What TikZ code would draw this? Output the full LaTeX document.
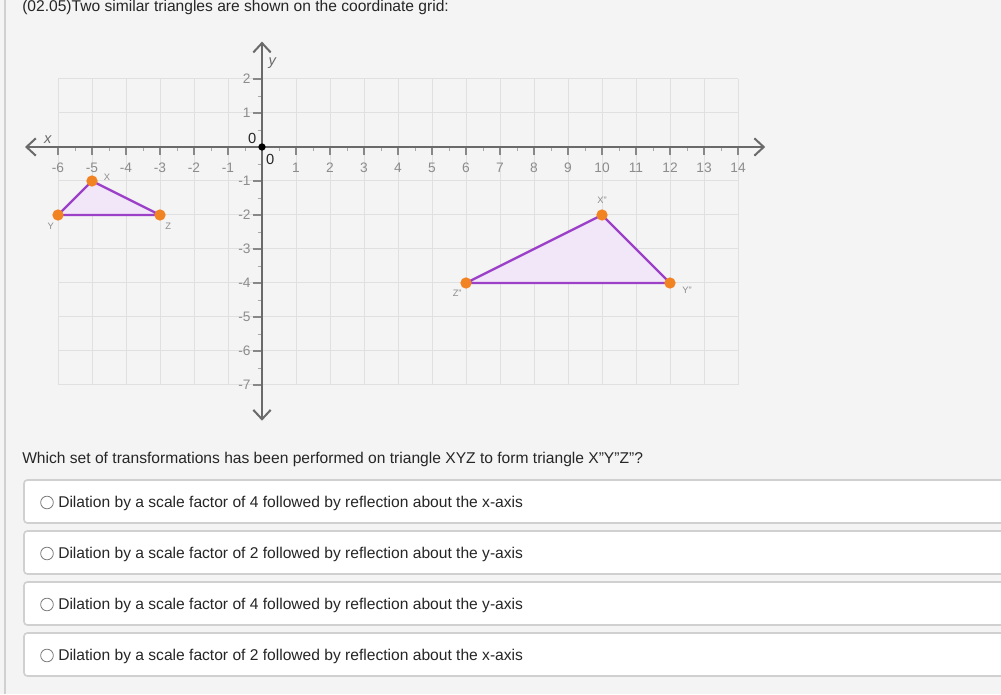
\documentclass[tikz,border=0pt]{standalone}
\usepackage{fontspec}
\setmainfont{Liberation Sans}
\usetikzlibrary{arrows.meta}

\definecolor{pagebg}{HTML}{F4F4F4}
\definecolor{gridgray}{HTML}{E0E0E0}
\definecolor{axisgray}{HTML}{6A6A6A}
\definecolor{ticktext}{HTML}{8C8C8C}
\definecolor{edgepurple}{HTML}{9C40C8}
\definecolor{fillpurple}{HTML}{F2E7F8}
\definecolor{dotorange}{HTML}{F28322}
\definecolor{boxgray}{HTML}{D0D0D0}
\definecolor{radiogray}{HTML}{7A7A7A}
\definecolor{textdark}{HTML}{262626}

\tikzset{
  gridline/.style={gridgray, line width=0.75pt},
  axisline/.style={axisgray, line width=1.5pt,
    {Straight Barb[length=7pt,width=13pt]}-{Straight Barb[length=7pt,width=13pt]}},
  majortick/.style={axisgray!80, line width=0.9pt},
  minortick/.style={gridgray!75!black, line width=0.6pt},
  ticklabel/.style={ticktext, font=\fontsize{10.3}{12}\selectfont, inner sep=0pt},
  zerolabel/.style={textdark, font=\fontsize{11}{13}\selectfont, inner sep=0pt},
  axislabel/.style={axisgray, font=\fontsize{11}{13}\selectfont\itshape, inner sep=0pt},
  vertexlabel/.style={ticktext, font=\fontsize{7}{8}\selectfont, inner sep=0pt},
  triangle/.style={edgepurple, line width=1.8pt, fill=fillpurple, line join=round},
  vertex/.style={circle, fill=dotorange, inner sep=0pt, minimum size=8.5pt},
  qtext/.style={textdark, font=\fontsize{11.7}{14}\selectfont, inner sep=0pt},
  choicebox/.style={draw=boxgray, line width=1.2pt, fill=white, rounded corners=2.5pt},
  radio/.style={circle, draw=radiogray, fill=white, line width=0.6pt, inner sep=0pt, minimum size=9.5pt},
}

\begin{document}
\begin{tikzpicture}[x=0.75pt, y=0.75pt]
  % Page, one unit is one pixel
  \fill[pagebg] (0,0) rectangle (1001,694);
  \useasboundingbox (0,0) rectangle (1001,694);
  \coordinate (edgetop) at (5,694);
  \coordinate (edgebot) at (5,0);
  \draw[boxgray, line width=0.8pt] (edgetop) -- (edgebot);

  % Heading and question
  \node[qtext, anchor=base west] (title) at (22,682)
    {(02.05)Two similar triangles are shown on the coordinate grid:};
  \node[qtext, anchor=base west] (question) at (22,231)
    {Which set of transformations has been performed on triangle XYZ to form triangle X"Y"Z"?};

  % Answer choices
  \foreach \top/\txt [count=\i] in {
      480/{Dilation by a scale factor of 4 followed by reflection about the x-axis},
      531/{Dilation by a scale factor of 2 followed by reflection about the y-axis},
      582/{Dilation by a scale factor of 4 followed by reflection about the y-axis},
      633/{Dilation by a scale factor of 2 followed by reflection about the x-axis}} {
    \draw[choicebox] (24,694-\top) rectangle (1012,651-\top);
    \node[radio] (radio\i) at (47,671.5-\top) {};
    \node[qtext, anchor=base west] (choice\i) at (58,666.5-\top) {\txt};
  }

  % Coordinate grid, one unit is 34 pixels
  \begin{scope}[shift={(262,547)}, x=25.5pt, y=25.5pt]
    \foreach \gx in {-6,...,14}
      \draw[gridline] (\gx,-7) -- (\gx,2);
    \foreach \gy in {-7,...,2}
      \draw[gridline] (-6,\gy) -- (14,\gy);

    % ticks and numbers
    \foreach \gx in {-5.5,-4.5,...,13.5}
      \draw[minortick] (\gx,0) -- (\gx,-0.12);
    \foreach \gy in {-6.5,-5.5,...,1.5}
      \draw[minortick] (0,\gy) -- (-0.12,\gy);
    \foreach \gx in {-6,...,-1}{
      \draw[majortick] (\gx,0) -- (\gx,-0.24);
      \node[ticklabel] (xnum\gx) at (\gx,-0.6) {\gx};
    }
    \foreach \gx in {1,...,14}{
      \draw[majortick] (\gx,0) -- (\gx,-0.24);
      \node[ticklabel] (xnum\gx) at (\gx,-0.6) {\gx};
    }
    \foreach \gy in {-7,...,-1,1,2}{
      \draw[majortick] (0,\gy) -- (-0.26,\gy);
      \node[ticklabel, anchor=east] (ynum\gy) at (-0.33,\gy) {\gy};
    }

    % axes
    \coordinate (xleft) at (-6.97,0);
    \coordinate (xright) at (14.8,0);
    \coordinate (ytop) at (0,3.1);
    \coordinate (ybot) at (0,-8.05);
    \draw[axisline] (xleft) -- (xright);
    \draw[axisline] (ybot) -- (ytop);
    \node[axislabel] (xname) at (-6.3,0.22) {x};
    \node[axislabel] (yname) at (0.3,2.47) {y};
    \node[circle, fill=black, inner sep=0pt, minimum size=5.5pt] (origin) at (0,0) {};
    \node[zerolabel] (zeroy) at (-0.29,0.26) {0};
    \node[zerolabel] (zerox) at (0.24,-0.38) {0};

    % Triangle XYZ and its image
    \coordinate (X) at (-5,-1);
    \coordinate (Y) at (-6,-2);
    \coordinate (Z) at (-3,-2);
    \coordinate (X2) at (10,-2);
    \coordinate (Y2) at (12,-4);
    \coordinate (Z2) at (6,-4);
    \draw[triangle] (X) -- (Y) -- (Z) -- cycle;
    \draw[triangle] (X2) -- (Y2) -- (Z2) -- cycle;
    \foreach \v in {X,Y,Z,X2,Y2,Z2}
      \node[vertex] (dot\v) at (\v) {};

    \node[vertexlabel] (nameX) at (-4.56,-0.88) {X};
    \node[vertexlabel] (nameY) at (-6.21,-2.34) {Y};
    \node[vertexlabel] (nameZ) at (-2.76,-2.34) {Z};
    \node[vertexlabel] (nameX2) at (10.0,-1.56) {X''};
    \node[vertexlabel] (nameY2) at (12.5,-4.2) {Y''};
    \node[vertexlabel] (nameZ2) at (5.74,-4.29) {Z''};
  \end{scope}
\end{tikzpicture}
\end{document}
